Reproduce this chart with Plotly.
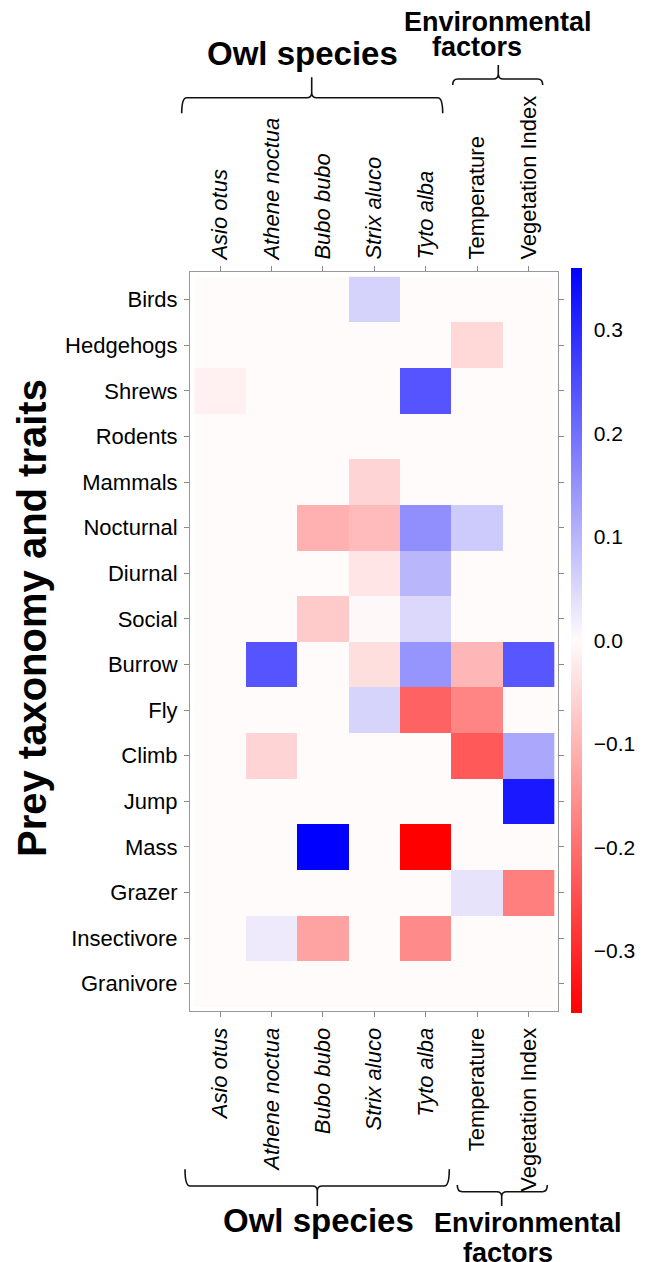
import plotly.graph_objects as go

# ---------------- data ----------------
prey_rows = ["Birds", "Hedgehogs", "Shrews", "Rodents", "Mammals", "Nocturnal", "Diurnal",
             "Social", "Burrow", "Fly", "Climb", "Jump", "Mass", "Grazer", "Insectivore", "Granivore"]
predictor_cols = ["<i>Asio otus</i>", "<i>Athene noctua</i>", "<i>Bubo bubo</i>", "<i>Strix aluco</i>",
                  "<i>Tyto alba</i>", "Temperature", "Vegetation Index"]

asio_otus     = [0, 0, -0.015, 0, 0, 0, 0, 0, 0, 0, 0, 0, 0, 0, 0, 0]
athene_noctua = [0, 0, 0, 0, 0, 0, 0, 0, 0.24, 0, -0.056, 0, 0, 0, 0.024, 0]
bubo_bubo     = [0, 0, 0, 0, 0, -0.106, 0, -0.07, 0, 0, 0, 0, 0.36, 0, -0.127, 0]
strix_aluco   = [0.059, 0, 0, 0, -0.056, -0.092, -0.032, -0.004, -0.042, 0.056, 0, 0, 0, 0, 0, 0]
tyto_alba     = [0, 0, 0.24, 0, 0, 0.155, 0.099, 0.05, 0.148, -0.219, 0, 0, -0.36, 0, -0.162, 0]
temperature   = [0, -0.05, 0, 0, 0, 0.07, 0, 0, -0.099, -0.17, -0.233, 0, 0, 0.035, 0, 0]
vegetation    = [0, 0, 0, 0, 0, 0, 0, 0, 0.236, 0, 0.12, 0.325, 0, -0.18, 0, 0]

colorbar_ticks = [-0.3, -0.2, -0.1, 0.0, 0.1, 0.2, 0.3]

columns = [asio_otus, athene_noctua, bubo_bubo, strix_aluco, tyto_alba, temperature, vegetation]
z = [[col[i] for col in columns] for i in range(len(prey_rows))]

# ---------------- layout geometry ----------------
# The page body has an 8px default margin, so the figure is drawn 8px smaller
# and all positions below are given in window pixels.
OFF = 8
W, H = 654 - OFF, 1262 - OFF
PX0, PX1, PY0, PY1 = 190, 558, 272, 1011          # plot area in window pixels
L, T = PX0 - OFF, PY0 - OFF
R, B = W - (PX1 - OFF), H - (PY1 - OFF)
FONT = "Liberation Sans, Arial, sans-serif"


def px(x):
    return (x - PX0) / (PX1 - PX0)


def py(y):
    return (PY1 - y) / (PY1 - PY0)


fig = go.Figure()
fig.add_trace(go.Heatmap(
    z=z, x=list(range(len(predictor_cols))), y=list(range(len(prey_rows))),
    colorscale=[[0, "rgb(255,0,0)"], [0.5, "rgb(255,251,251)"], [1, "rgb(0,0,255)"]],
    zmin=-0.36, zmax=0.36,
    colorbar=dict(thickness=11, lenmode="pixels", len=745, yanchor="middle", y=py(640.5),
                  xanchor="left", x=px(571), xpad=0, ypad=0, outlinewidth=0,
                  tickvals=colorbar_ticks, tickformat=".1f", ticks="outside", ticklen=8,
                  tickcolor="rgba(0,0,0,0)",
                  tickfont=dict(family=FONT, size=21, color="black")),
    hoverinfo="skip",
))
fig.add_trace(go.Scatter(x=[None], y=[None], xaxis="x2", yaxis="y", showlegend=False,
                         hoverinfo="skip"))

xr = [-0.584, 6.576]
tickfont = dict(family=FONT, size=22, color="black")
fig.update_layout(
    width=W, height=H, margin=dict(l=L, r=R, t=T, b=B),
    paper_bgcolor="white", plot_bgcolor="white", showlegend=False,
    xaxis=dict(range=xr, tickvals=list(range(7)), ticktext=predictor_cols, tickangle=-90,
               side="bottom", ticks="outside", ticklen=5, tickcolor="#888", showline=True,
               linecolor="#999", linewidth=1, mirror=True, showgrid=False, zeroline=False,
               tickfont=tickfont, ticklabelstandoff=2),
    xaxis2=dict(range=xr, overlaying="x", side="top", anchor="y", tickvals=list(range(7)),
                ticktext=predictor_cols, tickangle=-90, ticks="outside", ticklen=5,
                tickcolor="#888", showline=False, showgrid=False, zeroline=False,
                tickfont=tickfont, ticklabelstandoff=2),
    yaxis=dict(range=[15.6, -0.605], tickvals=list(range(16)), ticktext=prey_rows,
               ticks="outside", ticklen=5, tickcolor="#888", showline=True, linecolor="#999",
               linewidth=1, mirror="ticks", showgrid=False, zeroline=False,
               tickfont=tickfont, ticklabelstandoff=2),
)

# ---------------- titles ----------------
ann = []


def add_text(text, x, y, size, angle=0):
    ann.append(dict(text="<b>%s</b>" % text, x=px(x), y=py(y), xref="paper", yref="paper",
                    xanchor="center", yanchor="middle", showarrow=False, textangle=angle,
                    font=dict(family=FONT, size=size, color="black")))


add_text("Prey taxonomy and traits", 32, 618, 40, -90)
add_text("Owl species", 302.5, 53.5, 33)
add_text("Environmental", 498, 22.3, 27)
add_text("factors", 477, 47.3, 27)
add_text("Owl species", 318, 1220.2, 33)
add_text("Environmental", 528, 1223.3, 27)
add_text("factors", 507.5, 1253, 27)
fig.update_layout(annotations=ann)


# ---------------- braces ----------------
def brace(x0, x1, xc, yh, yend, ytip, r=5):
    d_tip = 1 if ytip > yh else -1
    P = lambda x, y: "%.5f,%.5f" % (px(x), py(y))
    return ("M " + P(x0, yend) + " Q " + P(x0, yh) + " " + P(x0 + r, yh) +
            " L " + P(xc - r, yh) + " Q " + P(xc, yh) + " " + P(xc, yh + d_tip * r) +
            " L " + P(xc, ytip) +
            " M " + P(xc, ytip) + " L " + P(xc, yh + d_tip * r) +
            " Q " + P(xc, yh) + " " + P(xc + r, yh) +
            " L " + P(x1 - r, yh) + " Q " + P(x1, yh) + " " + P(x1, yend))


shapes = []
for args in [(181.7, 442.7, 311.7, 97.7, 113.3, 77.3),
             (452.7, 542.7, 498.3, 79, 85, 65),
             (185, 449.3, 317.3, 1186, 1169.3, 1206),
             (457.3, 547.3, 501.7, 1191.7, 1185, 1206)]:
    shapes.append(dict(type="path", xref="paper", yref="paper", path=brace(*args),
                       line=dict(color="#111", width=1.6)))
fig.update_layout(shapes=shapes)

fig.write_html("out.html")
